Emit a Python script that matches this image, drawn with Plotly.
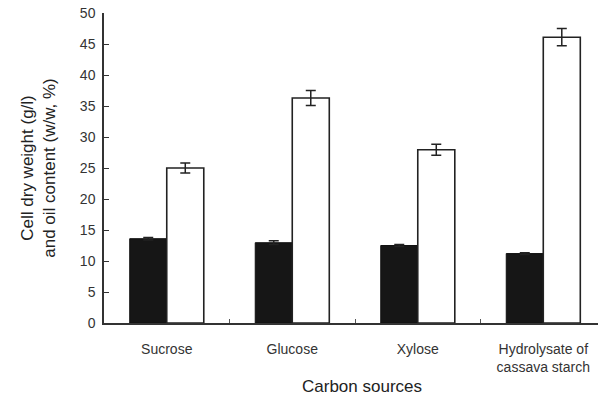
import plotly.graph_objects as go

categories = ["Sucrose", "Glucose", "Xylose", "Hydrolysate of<br>cassava starch"]
cell_dry_weight = [13.6, 12.95, 12.5, 11.2]
cell_dry_weight_err = [0.2, 0.3, 0.15, 0.15]
oil_content = [25.0, 36.3, 27.95, 46.1]
oil_content_err = [0.8, 1.2, 0.9, 1.4]
y_ticks = [0, 5, 10, 15, 20, 25, 30, 35, 40, 45, 50]

fig = go.Figure()
fig.add_trace(go.Bar(
    x=categories, y=cell_dry_weight, name="Cell dry weight",
    marker=dict(color="#161616", line=dict(color="#111111", width=1)),
    error_y=dict(type="data", array=cell_dry_weight_err, color="#222222", thickness=1.5, width=5),
))
fig.add_trace(go.Bar(
    x=categories, y=oil_content, name="Oil content",
    marker=dict(color="white", line=dict(color="#222222", width=1.6)),
    error_y=dict(type="data", array=oil_content_err, color="#222222", thickness=1.5, width=5),
))

fig.update_layout(
    width=598, height=402,
    margin=dict(l=104, r=0, t=13, b=79),
    paper_bgcolor="white", plot_bgcolor="white",
    barmode="group", bargap=0.41, bargroupgap=0,
    showlegend=False,
    font=dict(family="Liberation Sans, Arial, sans-serif", color="#333333"),
)
fig.add_annotation(
    text="Carbon sources", xref="paper", yref="paper",
    x=0.522, y=-0.205, xanchor="center", yanchor="middle",
    showarrow=False, font=dict(size=17, color="#222222"),
)
fig.update_xaxes(
    range=[-0.5, 3.436],
    showline=True, linecolor="#333333", linewidth=1.5,
    ticks="inside", tickson="boundaries", ticklen=4, tickcolor="#555555", tickwidth=1,
    tickfont=dict(size=14, color="#333333"),
    ticklabelstandoff=12,
    showgrid=False, zeroline=False,
)
fig.update_yaxes(
    range=[0, 50], tickvals=y_ticks,
    showline=True, linecolor="#333333", linewidth=1.5,
    ticks="inside", ticklen=5, tickcolor="#333333", tickwidth=1,
    tickfont=dict(size=14, color="#333333"),
    ticklabelstandoff=4,
    title=dict(text="Cell dry weight (g/l)<br>and oil content (w/w, %)", font=dict(size=17, color="#222222"), standoff=20),
    showgrid=False, zeroline=False,
)

fig.write_html("out.html")
